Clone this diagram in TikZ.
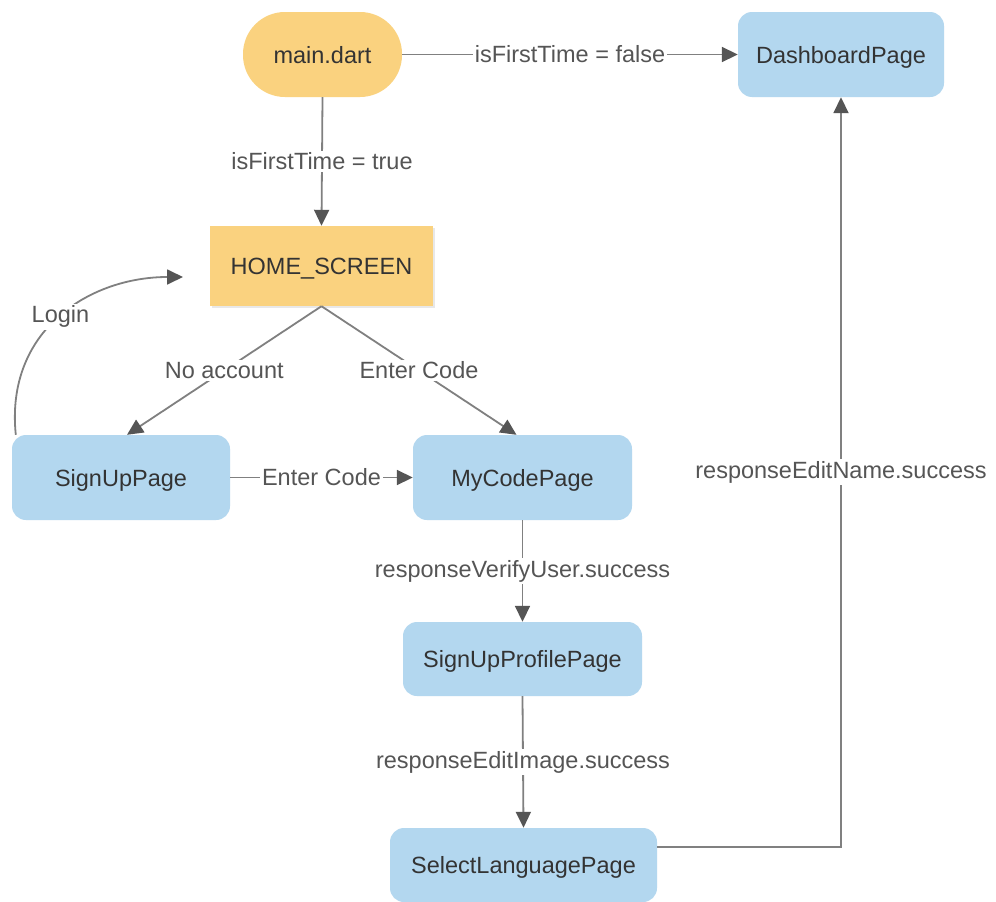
\documentclass[tikz,border=0pt]{standalone}
\usepackage{fontspec}
\setmainfont{Liberation Sans}
\usetikzlibrary{arrows.meta,shadows}
\definecolor{orangefill}{HTML}{FAD27F}
\definecolor{bluefill}{HTML}{B3D7EF}
\definecolor{linegray}{HTML}{808080}
\definecolor{tipgray}{HTML}{555555}
\definecolor{txt}{HTML}{333333}
\definecolor{lbl}{HTML}{555555}
\begin{document}
\begin{tikzpicture}[x=1pt,y=-1pt,
  nodefont/.style={font=\fontsize{23.5}{27}\selectfont, text=txt, text height=17pt, text depth=0pt},
  pagebox/.style={nodefont, fill=bluefill, rounded corners=14pt, inner sep=0pt},
  startbox/.style={nodefont, fill=orangefill, rounded corners=42pt, inner sep=0pt},
  homebox/.style={nodefont, fill=orangefill, inner sep=0pt,
     drop shadow={opacity=0.18, shadow xshift=2pt, shadow yshift=-2pt}},
  conn/.style={draw=linegray, line width=1.8pt,
     -{Triangle[length=16pt,width=15pt,color=tipgray]}},
  lab/.style={fill=white, inner sep=2pt, font=\fontsize{23.5}{27}\selectfont, text=lbl}]
\useasboundingbox (0,0) rectangle (996,902);
\fill[white] (0,0) rectangle (996,902);

\node[startbox, minimum width=159pt, minimum height=85pt] (main) at (322.5,54.5) {main.dart};
\node[pagebox, minimum width=206pt, minimum height=85pt] (dash) at (841,54.5) {DashboardPage};
\node[homebox, minimum width=223pt, minimum height=80pt] (home) at (321.5,266) {HOME\_SCREEN};
\node[pagebox, minimum width=218pt, minimum height=85pt] (signup) at (121,477.5) {SignUpPage};
\node[pagebox, minimum width=219pt, minimum height=85pt] (mycode) at (522.5,477.5) {MyCodePage};
\node[pagebox, minimum width=239pt, minimum height=74pt] (profile) at (522.5,659) {SignUpProfilePage};
\node[pagebox, minimum width=267pt, minimum height=74pt] (lang) at (523.5,865) {SelectLanguagePage};

\coordinate (loginstart) at ([xshift=4pt]signup.north west);
\coordinate (loginend) at (183,277);

\draw[conn] (main.east) -- node[lab] {isFirstTime = false} (dash.west);
\draw[conn] (main.south) -- node[lab] {isFirstTime = true} (home.north);
\draw[conn] (home.south) -- node[lab] {No account} ([xshift=6pt]signup.north);
\draw[conn] (home.south) -- node[lab] {Enter Code} ([xshift=-6pt]mycode.north);
\draw[conn] (signup.east) -- node[lab] {Enter Code} (mycode.west);
\draw[conn] (mycode.south) -- node[lab] {responseVerifyUser.success} (profile.north);
\draw[conn] (profile.south) -- node[lab] {responseEditImage.success} (lang.north);
\draw[conn] ([yshift=18pt]lang.east) -| node[lab, pos=0.75] {responseEditName.success} (dash.south);
\draw[conn] (loginstart) .. controls (5,330) and (90,277) .. node[lab, pos=0.5] {Login} (loginend);
\end{tikzpicture}
\end{document}
